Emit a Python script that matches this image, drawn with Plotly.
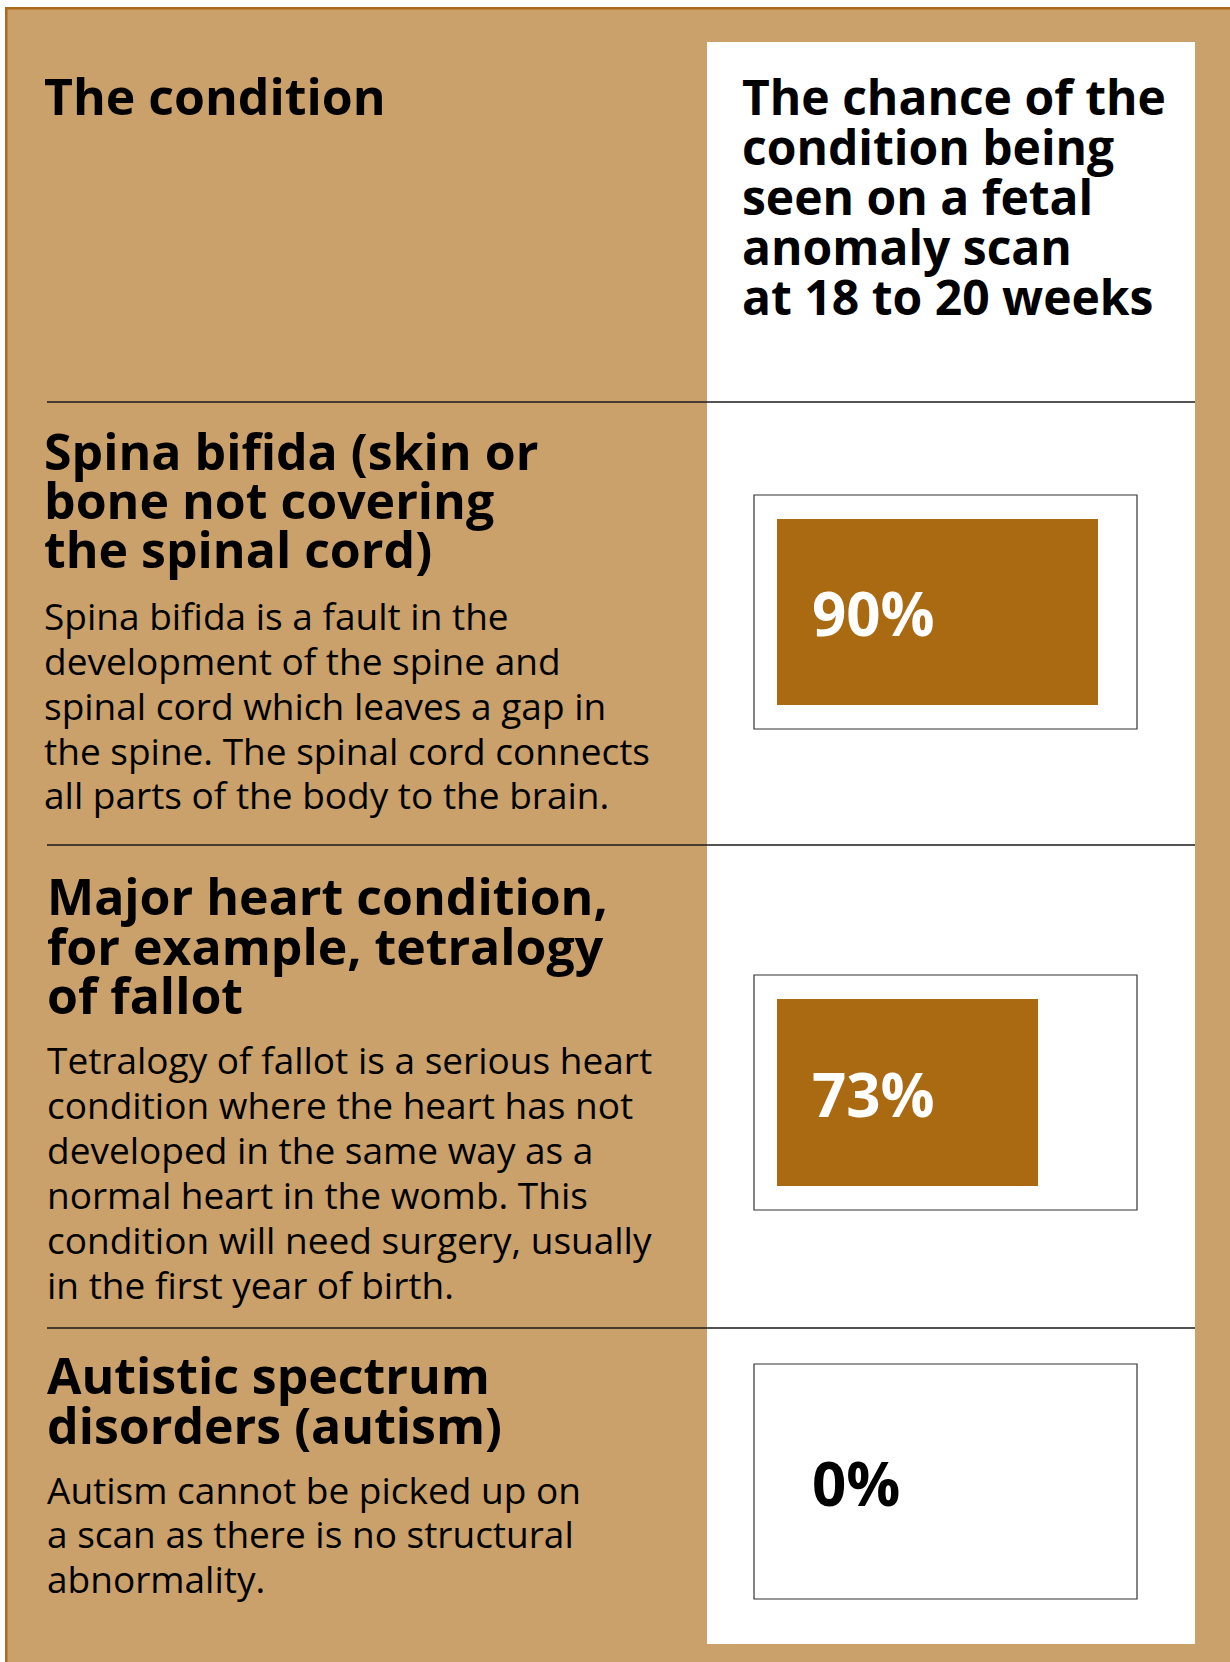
import plotly.graph_objects as go

W, H = 1230, 1662

# ---------------- data ----------------
conditions = ["Spina bifida", "Major heart condition", "Autistic spectrum disorders"]
detection_pct = [90, 73, 0]
pct_labels = ["90%", "73%", "0%"]

header_left = "The condition"
header_right = ["The chance of the", "condition being", "seen on a fetal",
                "anomaly scan", "at 18 to 20 weeks"]

titles = [
    ["Spina bifida (skin or", "bone not covering", "the spinal cord)"],
    ["Major heart condition,", "for example, tetralogy", "of fallot"],
    ["Autistic spectrum", "disorders (autism)"],
]
bodies = [
    ["Spina bifida is a fault in the", "development of the spine and",
     "spinal cord which leaves a gap in", "the spine. The spinal cord connects",
     "all parts of the body to the brain."],
    ["Tetralogy of fallot is a serious heart", "condition where the heart has not",
     "developed in the same way as a", "normal heart in the womb. This",
     "condition will need surgery, usually", "in the first year of birth."],
    ["Autism cannot be picked up on", "a scan as there is no structural",
     "abnormality."],
]

# ---------------- styling / layout ----------------
TAN = "#CAA06B"
BORDER = "#AD6A1A"
BAR = "#A96A12"
FONT = "Open Sans"
HEAD_SIZE = 50
RHEAD_SIZE = 48
BODY_SIZE = 37
PCT_SIZE = 60


def px(x):
    return x / W


def py(y):
    return 1 - y / H


fig = go.Figure()

# row geometry (pixels)
box_x = (754, 1137)
box_y = [(495, 729), (975, 1210), (1364, 1599)]
bar_pad = 24
bar_x0, bar_x1 = 777, 1134   # axis 0..100
title_x = [43, 46, 46]
title_base = [[470, 519, 568], [915, 965, 1014], [1394, 1444]]
body_base = [[630, 675, 720, 765, 809],
             [1074, 1119, 1164, 1209, 1254, 1299],
             [1504, 1548, 1593]]

layout_axes = {}
for i in range(3):
    n = "" if i == 0 else str(i + 1)
    fig.add_trace(go.Bar(
        x=[detection_pct[i]], y=[conditions[i]], orientation="h",
        marker=dict(color=BAR, line=dict(width=0)), width=1,
        xaxis="x" + n, yaxis="y" + n, showlegend=False, hoverinfo="skip"))
    top, bot = box_y[i][0] + bar_pad, box_y[i][1] - bar_pad
    layout_axes["xaxis" + n] = dict(domain=[px(bar_x0), px(bar_x1)], range=[0, 100],
                                    visible=False, fixedrange=True, anchor="y" + n)
    layout_axes["yaxis" + n] = dict(domain=[py(bot), py(top)], range=[-0.5, 0.5],
                                    type="category", visible=False, fixedrange=True,
                                    anchor="x" + n)
    fig.add_annotation(
        x=0, y=conditions[i], xref="x" + n, yref="y" + n,
        text=pct_labels[i], showarrow=False, xanchor="left", yanchor="middle",
        xshift=34, yshift=-1, borderpad=0,
        font=dict(family=FONT, size=PCT_SIZE, weight=700,
                  color="white" if detection_pct[i] > 0 else "black"))

shapes = []
# tan background with brown border top/left
shapes.append(dict(type="rect", xref="paper", yref="paper", x0=px(5), x1=1, y0=0, y1=py(7),
                   fillcolor=TAN, line=dict(width=0), layer="below"))
shapes.append(dict(type="rect", xref="paper", yref="paper", x0=px(5), x1=1, y0=py(9.5), y1=py(7),
                   fillcolor=BORDER, line=dict(width=0), layer="below"))
shapes.append(dict(type="rect", xref="paper", yref="paper", x0=px(5), x1=px(7.5), y0=0, y1=py(7),
                   fillcolor=BORDER, line=dict(width=0), layer="below"))
# white column
shapes.append(dict(type="rect", xref="paper", yref="paper", x0=px(707), x1=px(1195),
                   y0=py(1644), y1=py(42), fillcolor="white", line=dict(width=0), layer="below"))
# separators
for yy in (402, 845, 1328):
    shapes.append(dict(type="line", xref="paper", yref="paper", x0=px(47), x1=px(1195),
                       y0=py(yy), y1=py(yy), line=dict(color="#1a1a1a", width=1.5), layer="below"))
# boxes
for (t, b) in box_y:
    shapes.append(dict(type="rect", xref="paper", yref="paper", x0=px(box_x[0]), x1=px(box_x[1]),
                       y0=py(b), y1=py(t), fillcolor="white",
                       line=dict(color="#333333", width=1.2), layer="below"))


def add_text(txt, x, base, size, bold):
    yc = base - 0.388 * size
    fig.add_annotation(x=px(x), y=py(yc), xref="paper", yref="paper", text=txt,
                       showarrow=False, xanchor="left", yanchor="middle", borderpad=0,
                       font=dict(family=FONT, size=size, color="black",
                                 weight=700 if bold else 400))


add_text(header_left, 43, 115, HEAD_SIZE, True)
for k, line in enumerate(header_right):
    add_text(line, 741, 115 + 50 * k, RHEAD_SIZE, True)

for i in range(3):
    for line, b in zip(titles[i], title_base[i]):
        add_text(line, title_x[i], b, HEAD_SIZE, True)
    for line, b in zip(bodies[i], body_base[i]):
        add_text(line, title_x[i], b, BODY_SIZE, False)

fig.update_layout(
    width=W, height=H, margin=dict(l=0, r=0, t=0, b=0),
    paper_bgcolor="white", plot_bgcolor="rgba(0,0,0,0)",
    shapes=shapes, showlegend=False, bargap=0,
    **layout_axes)

fig.write_html("out.html", config={"displayModeBar": False},
               post_script="document.body.style.margin='0px';document.body.style.overflow='hidden';")
